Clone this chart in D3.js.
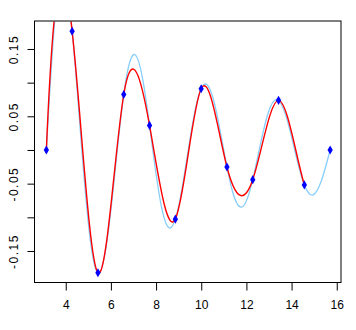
<!DOCTYPE html>
<html>
<head>
<meta charset="utf-8">
<script src="https://cdn.jsdelivr.net/npm/d3@7"></script>
<style>
  html, body { margin: 0; padding: 0; background: #fff; }
  text { font-family: "Liberation Sans", Arial, sans-serif; font-size: 12px; fill: #000; }
</style>
</head>
<body>
<svg id="container" width="356" height="330"></svg>
<script>
// sampled points (blue diamonds)
const pointX = [3.1416, 4.2840, 5.4264, 6.5688, 7.7112, 8.8536, 9.9960, 11.1384, 12.2808, 13.4232, 14.5656, 15.7080];
const pointY = [0, 0.1764, -0.1824, 0.0824, 0.0365, -0.1027, 0.0910, -0.0253, -0.0441, 0.0737, -0.0519, 0];

// underlying curve (light blue)
const curveX = [3.1416, 3.5343, 3.9270, 4.3197, 4.7124, 5.1051, 5.4978, 5.8905, 6.2832, 6.6759, 7.0686,
  7.4613, 7.8540, 8.2467, 8.6394, 9.0321, 9.4248, 9.8175, 10.2102, 10.6029, 10.9956, 11.3883,
  11.7810, 12.1737, 12.5664, 12.9591, 13.3518, 13.7445, 14.1372, 14.5299, 14.9226, 15.3153, 15.7080];
const curveY = [0, 0.2001, 0.2546, 0.1637, 0, -0.1385, -0.1819, -0.1200, 0, 0.1059, 0.1415,
  0.0948, 0, -0.0857, -0.1157, -0.0783, 0, 0.0720, 0.0979, 0.0667, 0, -0.0621,
  -0.0849, -0.0581, 0, 0.0546, 0.0749, 0.0514, 0, -0.0487, -0.0670, -0.0462, 0];

const xTicks = [4, 6, 8, 10, 12, 14, 16];
const yTicks = [-0.15, -0.10, -0.05, 0, 0.05, 0.10, 0.15];
const yLabels = ['-0.15', '', '-0.05', '', '0.05', '', '0.15'];

const svg = d3.select('#container');
const plotLeft = 35, plotRight = 341.5, plotTop = 21.5, plotBottom = 282.5;

const x = d3.scaleLinear().domain([2.6389, 16.2107]).range([plotLeft, plotRight]);
const y = d3.scaleLinear().domain([-0.1968, 0.1908]).range([plotBottom, plotTop]);

// cubic spline with fmm end conditions (like R's spline()), as a d3 curve;
// fitted on all points but only drawn over the first `segments` intervals
function curveFmm(segments) {
  return function(context) {
    let xs, ys;
    return {
      areaStart() {}, areaEnd() {},
      lineStart() { xs = []; ys = []; },
      point(px, py) { xs.push(+px); ys.push(+py); },
      lineEnd() {
        const n = xs.length;
        const nm1 = n - 1;
        const b = new Array(n).fill(0), c = new Array(n).fill(0), d = new Array(n).fill(0);
        d[0] = xs[1] - xs[0];
        c[1] = (ys[1] - ys[0]) / d[0];
        for (let i = 1; i < nm1; i++) {
          d[i] = xs[i + 1] - xs[i];
          b[i] = 2 * (d[i - 1] + d[i]);
          c[i + 1] = (ys[i + 1] - ys[i]) / d[i];
          c[i] = c[i + 1] - c[i];
        }
        b[0] = -d[0];
        b[nm1] = -d[n - 2];
        c[0] = c[2] / (xs[3] - xs[1]) - c[1] / (xs[2] - xs[0]);
        c[nm1] = c[n - 2] / (xs[nm1] - xs[n - 3]) - c[n - 3] / (xs[n - 2] - xs[n - 4]);
        c[0] = c[0] * d[0] * d[0] / (xs[3] - xs[0]);
        c[nm1] = -c[nm1] * d[n - 2] * d[n - 2] / (xs[nm1] - xs[n - 4]);
        for (let i = 1; i <= nm1; i++) {
          const t = d[i - 1] / b[i - 1];
          b[i] = b[i] - t * d[i - 1];
          c[i] = c[i] - t * c[i - 1];
        }
        c[nm1] = c[nm1] / b[nm1];
        for (let i = n - 2; i >= 0; i--) c[i] = (c[i] - d[i] * c[i + 1]) / b[i];
        // slopes at the knots
        const slope = new Array(n);
        for (let i = 0; i < nm1; i++) {
          slope[i] = (ys[i + 1] - ys[i]) / d[i] - d[i] * (c[i + 1] + 2 * c[i]);
        }
        slope[nm1] = (ys[nm1] - ys[n - 2]) / d[n - 2] + d[n - 2] * (c[n - 2] + 2 * c[nm1]);
        context.moveTo(xs[0], ys[0]);
        for (let i = 0; i < Math.min(segments, nm1); i++) {
          const h = xs[i + 1] - xs[i];
          context.bezierCurveTo(
            xs[i] + h / 3, ys[i] + slope[i] * h / 3,
            xs[i + 1] - h / 3, ys[i + 1] - slope[i + 1] * h / 3,
            xs[i + 1], ys[i + 1]);
        }
      }
    };
  };
}

svg.append('clipPath').attr('id', 'plotClip')
  .append('rect')
  .attr('x', plotLeft).attr('y', plotTop)
  .attr('width', plotRight - plotLeft).attr('height', plotBottom - plotTop);

const plot = svg.append('g').attr('clip-path', 'url(#plotClip)');

const trueLine = d3.line()
  .x(d => x(d[0]))
  .y(d => y(d[1]))
  .curve(d3.curveNatural);

const splineLine = d3.line()
  .x(d => x(d[0]))
  .y(d => y(d[1]))
  .curve(curveFmm(pointX.length - 2));

plot.append('path')
  .datum(d3.zip(curveX, curveY))
  .attr('d', trueLine)
  .attr('fill', 'none')
  .attr('stroke', '#87CEFA')
  .attr('stroke-width', 1.3);

// spline through the sampled points, drawn up to the second last one
plot.append('path')
  .datum(d3.zip(pointX, pointY))
  .attr('d', splineLine)
  .attr('fill', 'none')
  .attr('stroke', '#FF0000')
  .attr('stroke-width', 1.4);

plot.selectAll('path.pt')
  .data(d3.zip(pointX, pointY))
  .enter()
  .append('path')
  .attr('class', 'pt')
  .attr('transform', d => `translate(${x(d[0])},${y(d[1])})`)
  .attr('d', d3.symbol().type(d3.symbolDiamond).size(24))
  .attr('fill', '#0000FF');

// box
svg.append('rect')
  .attr('x', plotLeft - 0.5).attr('y', plotTop - 0.5)
  .attr('width', plotRight - plotLeft).attr('height', plotBottom - plotTop + 0.5)
  .attr('fill', 'none')
  .attr('stroke', '#000')
  .attr('stroke-width', 1);

// x axis
const xAxis = svg.append('g').attr('transform', `translate(0,${plotBottom})`)
  .call(d3.axisBottom(x).tickValues(xTicks).tickSize(8).tickPadding(10).tickFormat(d3.format('d')));
xAxis.select('.domain').remove();
xAxis.selectAll('text').attr('font-size', 12).attr('font-family', '"Liberation Sans", Arial, sans-serif');

// y axis
const yAxis = svg.append('g').attr('transform', `translate(${plotLeft - 0.5},0)`)
  .call(d3.axisLeft(y).tickValues(yTicks).tickSize(7).tickFormat((d, i) => yLabels[i]));
yAxis.select('.domain').remove();
yAxis.selectAll('text')
  .attr('font-size', 12)
  .attr('font-family', '"Liberation Sans", Arial, sans-serif')
  .attr('x', null).attr('dy', null)
  .attr('text-anchor', 'middle')
  .style('letter-spacing', '1.5px')
  .attr('transform', 'translate(-17,0) rotate(-90)');
</script>
</body>
</html>
